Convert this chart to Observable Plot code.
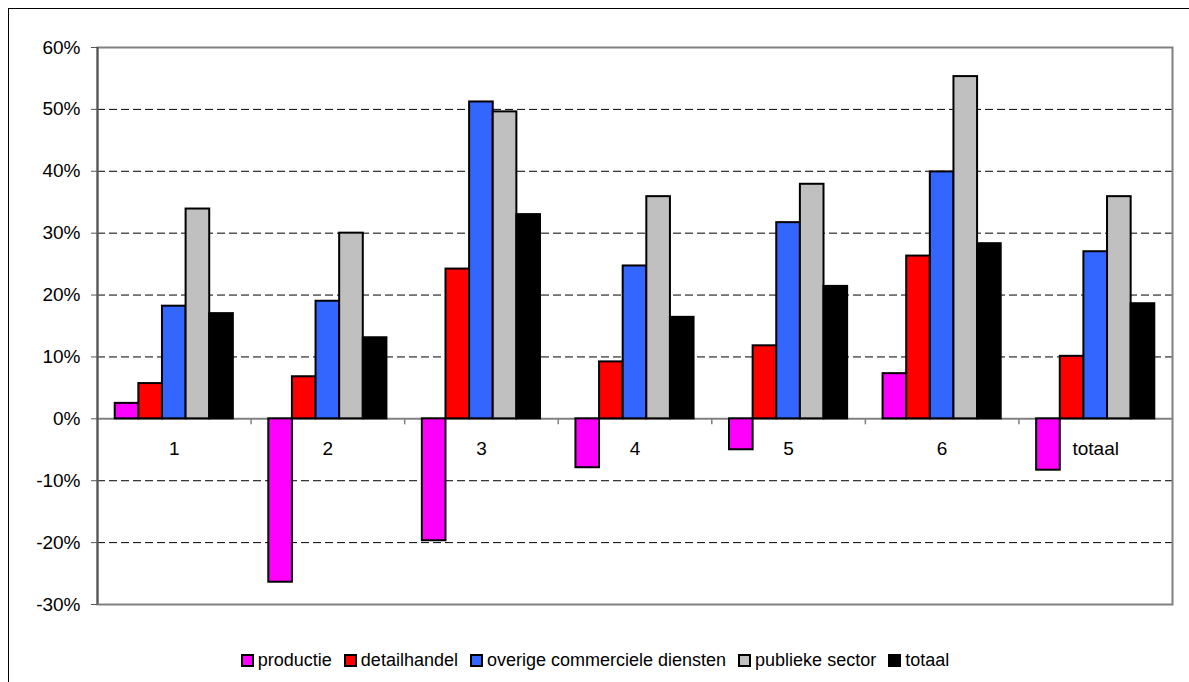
<!DOCTYPE html>
<html>
<head>
<meta charset="utf-8">
<script src="https://cdn.jsdelivr.net/npm/d3@7"></script>
<script src="https://cdn.jsdelivr.net/npm/@observablehq/plot@0.6"></script>
<style>
  html, body { margin: 0; padding: 0; background: #fff; }
  body { width: 1189px; height: 682px; overflow: hidden; position: relative;
         font-family: "Liberation Sans", Arial, sans-serif; }
  #frame { position: absolute; left: 8px; top: 8px; width: 1200px; height: 700px;
           border-left: 1px solid #000; border-top: 1px solid #000; }
  #chart { position: absolute; left: 0; top: 0; }
  #legend { position: absolute; top: 641px; left: 0; width: 1172px;
            display: flex; justify-content: center; align-items: center;
            font-size: 18px; color: #000; }
  #legend .item { display: flex; align-items: center; margin: 0 6px; }
  #legend .sw { width: 9px; height: 9px; border: 2px solid #000; margin-right: 4px; }
</style>
</head>
<body>
<div id="frame">
  <div id="chart"></div>
  <div id="legend"></div>
</div>
<script>
// Categories along the x axis
const categories = ["1", "2", "3", "4", "5", "6", "totaal"];

// Series (sectors) and their colours
const series = ["productie", "detailhandel", "overige commerciele diensten", "publieke sector", "totaal"];
const seriesColors = ["#FF00FF", "#FF0000", "#3366FF", "#C0C0C0", "#000000"];

// Growth per category, in percent
const productie = [2.5, -26.4, -19.7, -7.9, -5.0, 7.3, -8.3];
const detailhandel = [5.7, 6.8, 24.2, 9.2, 11.8, 26.3, 10.1];
const overigeDiensten = [18.2, 19.0, 51.2, 24.7, 31.7, 39.9, 27.0];
const publiekeSector = [33.9, 30.0, 49.6, 35.9, 37.9, 55.3, 35.9];
const totaal = [17.0, 13.1, 33.0, 16.4, 21.4, 28.3, 18.6];

// Y axis ticks (percent)
const yTicks = [-30, -20, -10, 0, 10, 20, 30, 40, 50, 60];

const seriesValues = [productie, detailhandel, overigeDiensten, publiekeSector, totaal];

// Clustered columns: each category spans one unit on x; the gap between
// clusters is 1.5 column widths.
const gapWidth = 1.5;
const colW = 1 / (series.length + gapWidth);
const bars = [];
categories.forEach((cat, ci) => {
  series.forEach((s, si) => {
    const x1 = ci + (gapWidth / 2) * colW + si * colW;
    bars.push({cat, series: s, value: seriesValues[si][ci], x1, x2: x1 + colW});
  });
});

const boundaries = d3.range(1, categories.length);

const chart = Plot.plot({
  width: 1180,
  height: 600,
  marginLeft: 88,
  marginRight: 17,
  marginTop: 38,
  marginBottom: 5,
  style: {fontFamily: "'Liberation Sans', Arial, sans-serif", fontSize: "19px", background: "white", overflow: "visible"},
  x: {domain: [0, categories.length], axis: null},
  y: {domain: [-30, 60], axis: null},
  color: {domain: series, range: seriesColors},
  marks: [
    Plot.gridY(yTicks.filter(d => d !== 0 && d !== 60 && d !== -30), {stroke: "#000", strokeOpacity: 1, strokeDasharray: "8,4"}),
    Plot.ruleY([0], {stroke: "#808080", strokeWidth: 2}),
    Plot.ruleX(boundaries, {y1: 0, y2: 0, insetBottom: -6, stroke: "#808080", strokeWidth: 1.5}),
    Plot.rectY(bars, {x1: "x1", x2: "x2", y1: 0, y2: "value", fill: "series", stroke: "#000", strokeWidth: 2}),
    Plot.frame({stroke: "#808080", strokeWidth: 2}),
    Plot.ruleX([0], {stroke: "#555", strokeWidth: 2}),
    Plot.axisY({ticks: yTicks, tickFormat: d => d + "%", tickSize: 6, tickPadding: 11, stroke: "#555", fill: "#000", label: null}),
    Plot.text(categories, {x: (d, i) => i + 0.5, y: () => 0, dy: 30, fill: "#000", fontSize: 19})
  ]
});
document.getElementById("chart").appendChild(chart);

// Legend
const legend = document.getElementById("legend");
series.forEach((s, i) => {
  const item = document.createElement("div");
  item.className = "item";
  const sw = document.createElement("span");
  sw.className = "sw";
  sw.style.background = seriesColors[i];
  const label = document.createElement("span");
  label.textContent = s;
  item.appendChild(sw);
  item.appendChild(label);
  legend.appendChild(item);
});
</script>
</body>
</html>
